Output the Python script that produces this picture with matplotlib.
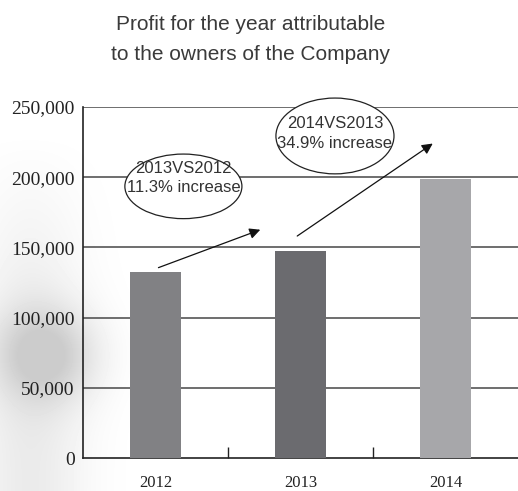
import numpy as np
import matplotlib.pyplot as plt
from matplotlib.patches import Ellipse

years = ['2012', '2013', '2014']
profit = [132500, 147500, 199000]
bar_colors = ['#818184', '#6b6b6f', '#a7a7aa']
yticks = [0, 50000, 100000, 150000, 200000, 250000]
ytick_labels = ['0', '50,000', '100,000', '150,000', '200,000', '250,000']
title_lines = ['Profit for the year attributable', 'to the owners of the Company']
notes = ['2013VS2012\n11.3% increase', '2014VS2013\n34.9% increase']

W, H = 518, 491
fig = plt.figure(figsize=(W / 100, H / 100), dpi=100)

# faint grey smudge on the left, like the printed page (pixel grid)
bg = fig.add_axes([0, 0, 1, 1], zorder=-1)
px, py = np.meshgrid(np.arange(W), np.arange(H))
blob = 0.17 * np.exp(-((px - 45) / 50.0) ** 2 - ((py - 355) / 45.0) ** 2)
column = 0.08 * np.exp(-((px - 30) / 55.0) ** 2) * np.clip((py - 130) / 200.0, 0, 1)
shade = np.clip(blob + column, 0, 0.2)
bg.imshow(1 - shade, cmap='gray', vmin=0, vmax=1, aspect='auto', origin='upper',
          extent=[0, W, H, 0])
bg.axis('off')

ax = fig.add_axes([0.160, 0.0672, 0.840, 0.7148])
ax.patch.set_alpha(0)

x = np.arange(len(years))
ax.bar(x, profit, width=0.35, color=bar_colors, zorder=3)

ax.set_xlim(-0.5, 2.5)
ax.set_ylim(0, 250000)
ax.set_yticks(yticks)
ax.set_yticklabels(ytick_labels, fontsize=14, family='Liberation Serif', color='#222')
ax.set_xticks(x)
ax.set_xticklabels(years, fontsize=12, family='Liberation Serif', color='#222')
ax.tick_params(axis='x', length=0, pad=12)
ax.tick_params(axis='y', length=0, pad=6)
# small separators between years
ax.set_xticks([0.5, 1.5], minor=True)
ax.tick_params(axis='x', which='minor', direction='in', length=8, width=1, color='#222')

for v in yticks[1:]:
    ax.axhline(v, color='#555', lw=1.2, zorder=1)
for s in ['top', 'right']:
    ax.spines[s].set_visible(False)
ax.spines['left'].set_color('#222')
ax.spines['bottom'].set_color('#222')
ax.spines['left'].set_linewidth(1.2)
ax.spines['bottom'].set_linewidth(1.2)

# ovals with comparison notes
ovals = [(0.193, 193500, 0.807, 46000), (1.238, 229400, 0.814, 54000)]
text_shift = [5700, 1800]
for (cx, cy, w, h), dy, txt in zip(ovals, text_shift, notes):
    ax.add_patch(Ellipse((cx, cy), w, h, facecolor='white', edgecolor='#222',
                         lw=0.9, zorder=4, clip_on=False))
    ax.text(cx, cy + dy, txt, ha='center', va='center', fontsize=12,
            family='Liberation Sans', color='#333', linespacing=1.35, zorder=5)

# growth arrows
ax.annotate('', xy=(0.741, 163300), xytext=(0.003, 134900),
            arrowprops=dict(arrowstyle='-|>', lw=0.9, color='#111', mutation_scale=16), zorder=5)
ax.annotate('', xy=(1.928, 225100), xytext=(0.962, 157000),
            arrowprops=dict(arrowstyle='-|>', lw=0.9, color='#111', mutation_scale=16),
            annotation_clip=False, zorder=5)

fig.text(0.483, 1 - 24 / 491, title_lines[0], ha='center', va='center',
         fontsize=15, color='#3a3a3a', family='Liberation Sans')
fig.text(0.483, 1 - 55 / 491, title_lines[1], ha='center', va='center',
         fontsize=15, color='#3a3a3a', family='Liberation Sans')

fig.savefig('out.png', dpi=100)
